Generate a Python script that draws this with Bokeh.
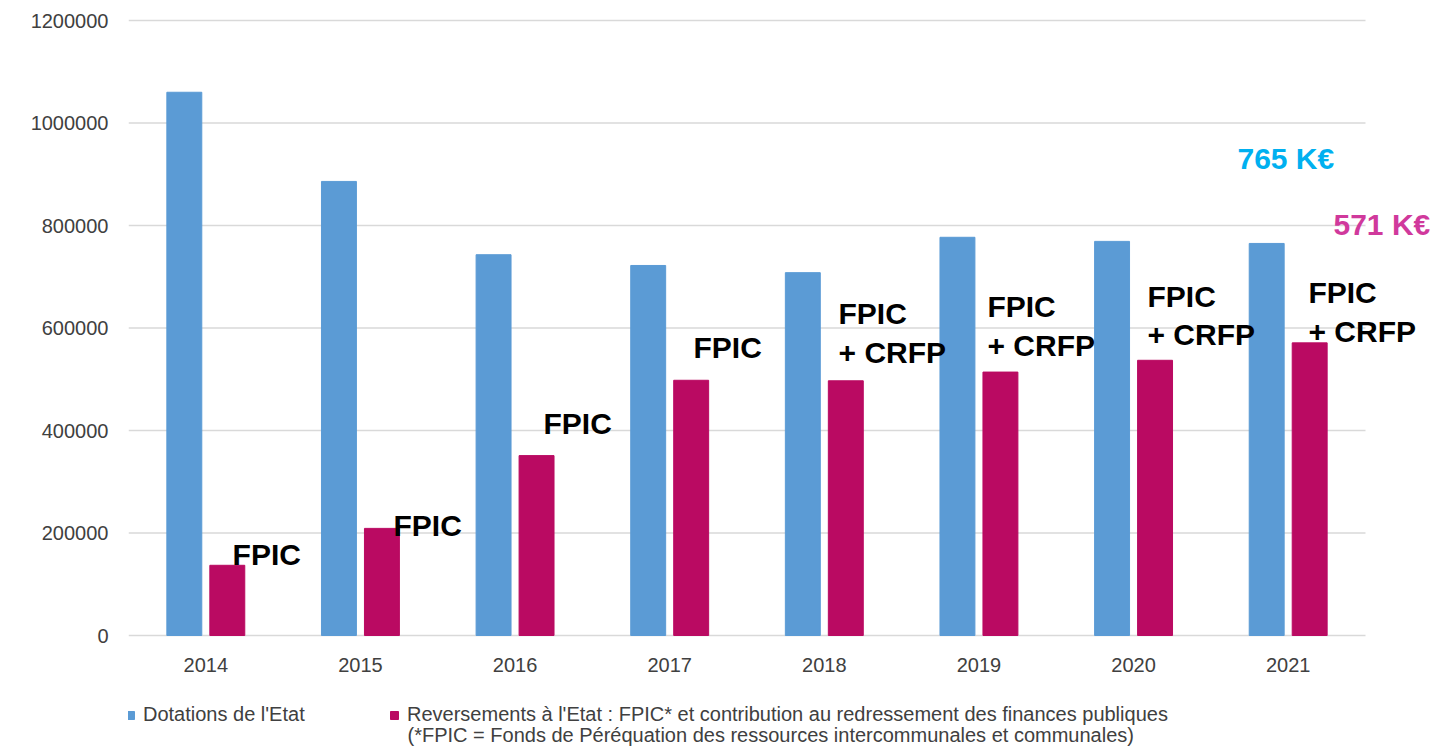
import numpy as np
from bokeh.plotting import figure
from bokeh.models import (ColumnDataSource, Range1d, FixedTicker, Label, Legend, LegendItem,
                          NumeralTickFormatter)
from bokeh.embed import file_html
from bokeh.resources import INLINE

# ---- data ----
years = ["2014", "2015", "2016", "2017", "2018", "2019", "2020", "2021"]
dotations = [1060000, 886000, 743000, 722000, 708000, 777000, 769000, 765000]
reversements = [137000, 209000, 351000, 498000, 497000, 514000, 537000, 571000]
y_ticks = [0, 200000, 400000, 600000, 800000, 1000000, 1200000]

# annotation texts (lines) and anchor positions in data units
ann_line1 = ["FPIC", "FPIC", "FPIC", "FPIC", "FPIC", "FPIC", "FPIC", "FPIC"]
ann_line2 = ["", "", "", "", "+ CRFP", "+ CRFP", "+ CRFP", "+ CRFP"]
ann_x = [0.673, 1.714, 2.684, 3.654, 4.592, 5.555, 6.590, 7.631]
ann_y1 = [136600, 193200, 392200, 540500, 606800, 620500, 640000, 647800]
ann_y2 = [None, None, None, None, 530700, 544400, 565900, 571700]
total_labels = ["765 K€", "571 K€"]
total_x = [7.172, 7.793]
total_y = [909000, 780500]

legend_labels = ["Dotations de l'Etat",
                 "Reversements à l'Etat : FPIC* et contribution au redressement des finances publiques"]
legend_note = "(*FPIC = Fonds de Péréquation des ressources intercommunales et communales)"

BLUE = "#5B9BD5"
MAGENTA = "#BA0A62"
TXT = "#404040"
FONT = "Liberation Sans"

# ---- layout (pixels) ----
W, H = 1440, 748
LEFT = 128            # frame left
Y0_PX = 635           # pixel row of value 0
YTOP_PX = 20          # pixel row of top gridline
PLOT_W = 1237         # width occupied by the 8 categories
LIFT = 11             # px correction for text baseline

n = len(years)
ymax = y_ticks[-1]
per_px = ymax / (Y0_PX - YTOP_PX)
cat_px = PLOT_W / n
x_end = (W - LEFT) / cat_px
y_start = -(H - Y0_PX) * per_px
y_end = ymax + YTOP_PX * per_px
dy = LIFT * per_px

centers = np.arange(n) + 0.5
off = 0.139
bw = 0.226

src = ColumnDataSource(dict(
    xb=centers - off, xm=centers + off, dot=dotations, rev=reversements))

p = figure(width=W, height=H, output_backend="svg", toolbar_location=None,
           x_range=Range1d(0, x_end), y_range=Range1d(y_start, y_end),
           min_border_left=LEFT, min_border_right=0, min_border_top=0, min_border_bottom=0)
p.outline_line_color = None
p.background_fill_color = "white"
p.border_fill_color = "white"

# gridlines limited to the category span
p.segment(x0=[0] * len(y_ticks), x1=[n] * len(y_ticks), y0=y_ticks, y1=y_ticks,
          line_color="#D9D9D9", line_width=1.5)

rb = p.vbar(x="xb", top="dot", width=bw, source=src, fill_color=BLUE, line_color=BLUE)
rm = p.vbar(x="xm", top="rev", width=bw, source=src, fill_color=MAGENTA, line_color=MAGENTA)

# axes
p.xaxis.fixed_location = 0
p.xaxis.ticker = FixedTicker(ticks=list(centers))
p.xaxis.major_label_overrides = {float(c): y for c, y in zip(centers, years)}
p.yaxis.ticker = FixedTicker(ticks=y_ticks)
p.yaxis.formatter = NumeralTickFormatter(format="0")
for ax in (p.xaxis, p.yaxis):
    ax.axis_line_color = None
    ax.major_tick_line_color = None
    ax.minor_tick_line_color = None
    ax.major_tick_out = 0
    ax.major_tick_in = 0
    ax.minor_tick_out = 0
    ax.major_label_text_font = FONT
    ax.major_label_text_font_size = "20px"
    ax.major_label_text_color = TXT
p.yaxis.major_label_standoff = 20
p.xaxis.major_label_standoff = 22

p.xgrid.grid_line_color = None
p.ygrid.grid_line_color = None

# annotations
for t1, t2, x, y1, y2 in zip(ann_line1, ann_line2, ann_x, ann_y1, ann_y2):
    p.add_layout(Label(x=x, y=y1 + dy, text=t1, text_font=FONT, text_font_size="30px",
                       text_font_style="bold", text_color="black", text_baseline="alphabetic"))
    if t2:
        p.add_layout(Label(x=x, y=y2 + dy, text=t2, text_font=FONT, text_font_size="30px",
                           text_font_style="bold", text_color="black", text_baseline="alphabetic"))

for t, x, y, c in zip(total_labels, total_x, total_y, ["#00B0F0", "#D0399C"]):
    p.add_layout(Label(x=x, y=y + dy, text=t, text_font=FONT, text_font_size="30px",
                       text_font_style="bold", text_color=c, text_baseline="alphabetic"))

# legend
for r, lab, lx in zip([rb, rm], legend_labels, [-3, 261]):
    lg = Legend(items=[LegendItem(label=lab, renderers=[r])], location=(lx, 22),
                glyph_width=10, glyph_height=10, label_standoff=8, padding=0, margin=0,
                border_line_color=None, background_fill_alpha=0,
                label_text_font=FONT, label_text_font_size="20px", label_text_color=TXT)
    p.add_layout(lg, "center")

p.add_layout(Label(x=279, y=14, x_units="screen", y_units="screen", text=legend_note,
                   text_font=FONT, text_font_size="20px", text_color=TXT,
                   text_baseline="alphabetic"))

open("out.html", "w").write(file_html(p, INLINE))
